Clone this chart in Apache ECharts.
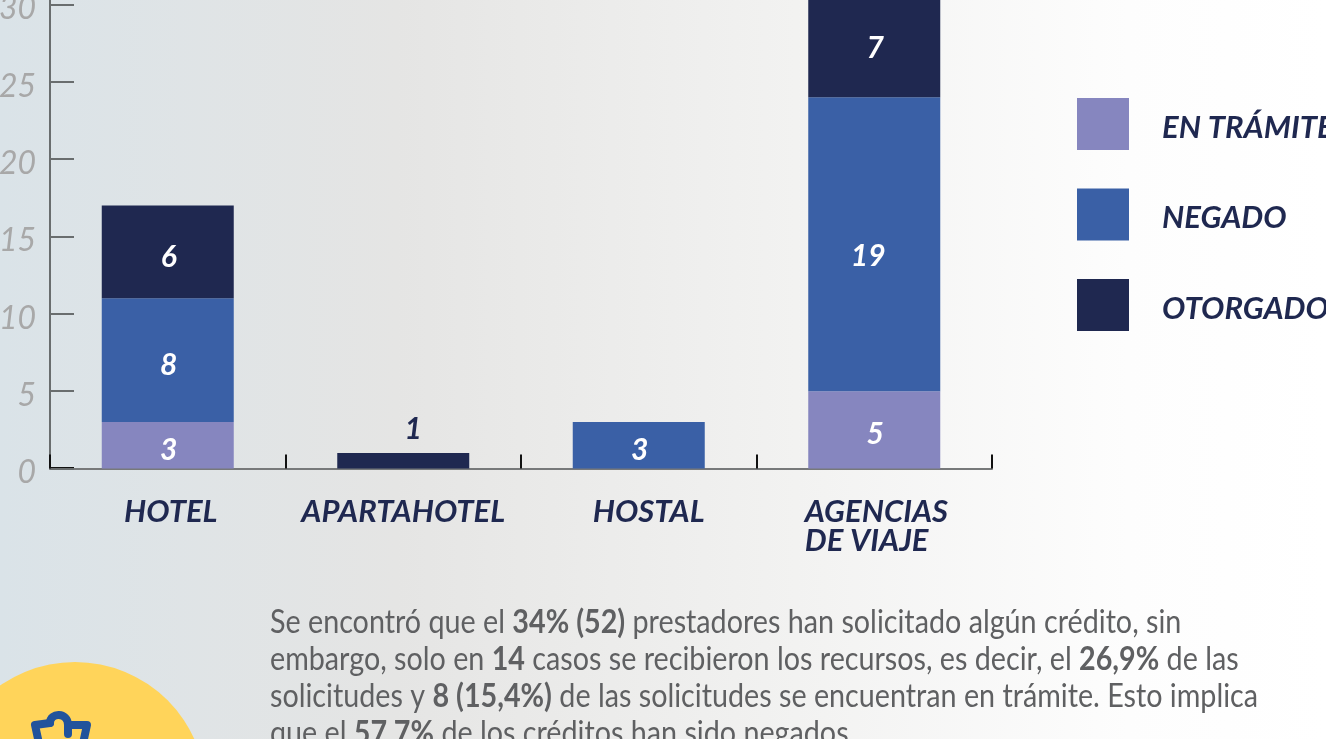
<!DOCTYPE html>
<html>
<head>
<meta charset="utf-8">
<title>Créditos por tipo de prestador</title>
<style>
html, body { margin: 0; padding: 0; overflow: hidden; }
#main { width: 1326px; height: 739px; }
</style>
</head>
<body>
<div id="main"></div>
<script src="https://cdn.jsdelivr.net/npm/echarts@6/dist/echarts.min.js"></script>
<script>
var categorias = ['HOTEL', 'APARTAHOTEL', 'HOSTAL', 'AGENCIAS\nDE VIAJE'];
var enTramite = [3, null, null, 5];
var negado = [8, null, 3, 19];
var otorgado = [6, 1, null, 7];
var yTicks = [0, 5, 10, 15, 20, 25, 30, 35];

var AZUL_OSCURO = '#1f2850';
var fuente = 'Lato';

function serie(nombre, datos, color) {
    return {
        name: nombre,
        type: 'bar',
        stack: 'total',
        barWidth: 132,
        itemStyle: {color: color},
        label: {
            show: true,
            position: 'inside',
            offset: [1, 5],
            color: '#fff',
            fontFamily: fuente,
            fontStyle: 'italic',
            fontWeight: 700,
            fontSize: 30
        },
        data: datos
    };
}

var serieNegado = serie('NEGADO', negado, '#3a60a6');
// el 19 no va centrado en su tramo
serieNegado.data = negado.map(function (v) {
    if (v === 19) {
        return {value: v, label: {offset: [-6, 12]}};
    }
    return v;
});

var serieOtorgado = serie('OTORGADO', otorgado, AZUL_OSCURO);
// la barra de 1 es muy baja, la etiqueta va encima
serieOtorgado.data = otorgado.map(function (v) {
    if (v === 1) {
        return {
            value: v,
            label: {position: 'top', offset: [10, -4], color: AZUL_OSCURO}
        };
    }
    return v;
});

// las etiquetas del eje no van centradas en la barra
var despX = {'HOTEL': 6, 'HOSTAL': 20, 'AGENCIAS\nDE VIAJE': 6};
var categoriasEje = categorias.map(function (c) {
    return {value: c, textStyle: {padding: [0, 0, 0, despX[c] || 0]}};
});

var estiloEje = {
    color: AZUL_OSCURO,
    fontFamily: fuente,
    fontStyle: 'italic',
    fontWeight: 700,
    fontSize: 31,
    lineHeight: 29
};

var estiloNumero = {
    color: '#a8a8a8',
    fontFamily: fuente,
    fontStyle: 'italic',
    fontWeight: 400,
    fontSize: 32
};

var trazoIcono = {fill: 'none', stroke: '#21539c', lineWidth: 8, lineCap: 'round', lineJoin: 'round'};

var option = {
    animation: false,
    backgroundColor: {
        type: 'linear', x: 0, y: 0, x2: 1, y2: 0,
        colorStops: [
            {offset: 0, color: '#dae3e8'},
            {offset: 0.3, color: '#e5e5e4'},
            {offset: 0.6, color: '#f2f2f1'},
            {offset: 0.85, color: '#fdfdfd'},
            {offset: 1, color: '#ffffff'}
        ]
    },
    legend: {
        orient: 'vertical',
        left: 1077,
        top: 98,
        padding: 0,
        itemWidth: 52,
        itemHeight: 52,
        itemGap: 38.5,
        icon: 'rect',
        data: ['EN TRÁMITE', 'NEGADO', 'OTORGADO'],
        formatter: '{t|{name}}',
        textStyle: {
            rich: {
                t: {
                    color: AZUL_OSCURO,
                    fontFamily: fuente,
                    fontStyle: 'italic',
                    fontWeight: 700,
                    fontSize: 31,
                    padding: [7, 0, 0, 28]
                }
            }
        }
    },
    grid: {left: 50, right: 334, top: -73, bottom: 270.5, outerBoundsMode: 'none'},
    xAxis: {
        type: 'category',
        data: categoriasEje,
        axisLine: {lineStyle: {color: '#77797a', width: 2}},
        axisTick: {
            show: true,
            inside: true,
            length: 14,
            lineStyle: {color: '#111', width: 2}
        },
        axisLabel: Object.assign({
            margin: 29,
            interval: 0,
            verticalAlign: 'top',
            formatter: function (v) {
                var partes = v.split('\n');
                if (partes.length > 1) {
                    return '{izq|' + partes[0] + '}\n{izq|' + partes[1] + '}';
                }
                return v;
            },
            rich: {izq: Object.assign({width: 145, align: 'left'}, estiloEje)}
        }, estiloEje)
    },
    yAxis: {
        type: 'value',
        min: yTicks[0],
        max: yTicks[yTicks.length - 1],
        interval: 5,
        axisLine: {show: true, lineStyle: {color: '#696d6e', width: 2}},
        axisTick: {
            show: true,
            inside: true,
            length: 24,
            lineStyle: {color: '#696d6e', width: 2}
        },
        splitLine: {show: false},
        axisLabel: {
            margin: 14,
            formatter: '{n|{value}}',
            rich: {n: Object.assign({padding: [9, 0, 0, 0]}, estiloNumero)}
        }
    },
    series: [
        serie('EN TRÁMITE', enTramite, '#8686bf'),
        serieNegado,
        serieOtorgado
    ],
    graphic: [
        {
            type: 'line',
            shape: {x1: 50, y1: 468, x2: 74, y2: 468},
            style: {stroke: '#111', lineWidth: 2},
            silent: true
        },
        {
            type: 'circle',
            shape: {cx: 75, cy: 793, r: 131},
            style: {fill: '#ffd45a'},
            silent: true
        },
        {
            type: 'polyline',
            shape: {points: [[40, 748], [35, 725], [50, 723]]},
            style: trazoIcono,
            silent: true
        },
        {
            type: 'bezierCurve',
            shape: {x1: 50, y1: 723, cpx1: 50, cpy1: 712, cpx2: 68, cpy2: 712, x2: 68, y2: 725},
            style: trazoIcono,
            silent: true
        },
        {
            type: 'polyline',
            shape: {points: [[68, 734], [68, 725], [87, 725], [82, 748]]},
            style: trazoIcono,
            silent: true
        },
        {
            type: 'text',
            x: 270,
            y: 604,
            scaleX: 0.897,
            silent: true,
            style: {
                text: 'Se encontró que el {b|34% (52)} prestadores han solicitado algún crédito, sin\n'
                    + 'embargo, solo en {b|14} casos se recibieron los recursos, es decir, el {b|26,9%} de las\n'
                    + 'solicitudes y {b|8 (15,4%)} de las solicitudes se encuentran en trámite. Esto implica\n'
                    + 'que el {b|57,7%} de los créditos han sido negados.',
                fill: '#5f6062',
                font: '400 32px "Lato"',
                lineHeight: 37,
                rich: {
                    b: {
                        fontFamily: fuente,
                        fontWeight: 700,
                        fontSize: 32,
                        lineHeight: 37,
                        fill: '#5f6062'
                    }
                }
            }
        }
    ]
};
echarts.init(document.getElementById('main')).setOption(option);
</script>
</body>
</html>
